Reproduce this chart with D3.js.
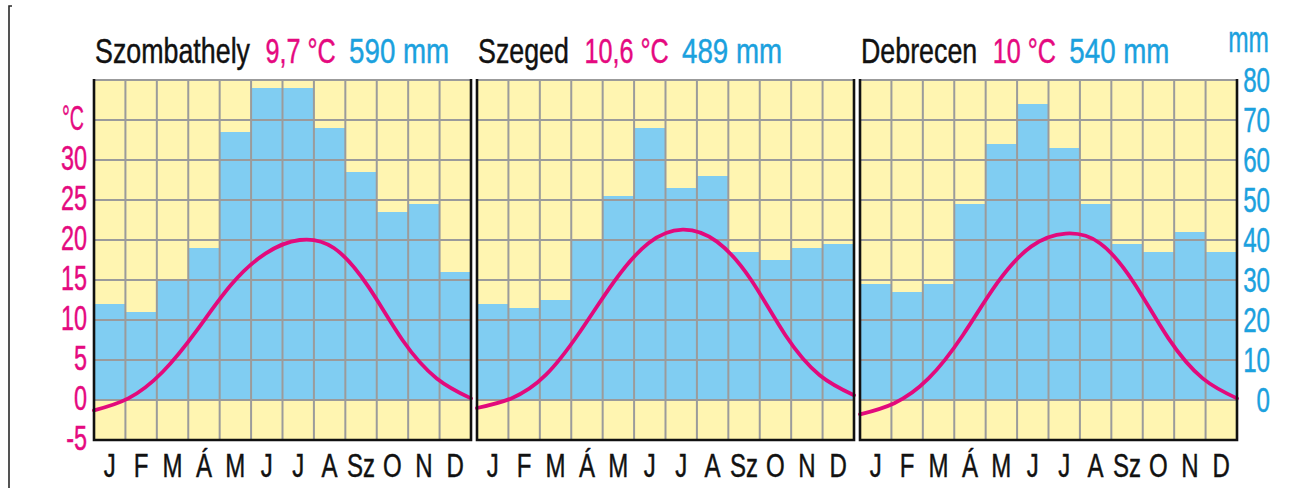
<!DOCTYPE html>
<html>
<head>
<meta charset="utf-8">
<script src="https://cdn.jsdelivr.net/npm/d3@7"></script>
<style>
  html, body { margin: 0; padding: 0; background: #fff; }
  svg { display: block; }
  text { font-family: "Liberation Sans", Arial, sans-serif; }
</style>
</head>
<body>
<svg id="chart" width="1303" height="488"></svg>
<script>
// ---------- data ----------
const months = ["J", "F", "M", "Á", "M", "J", "J", "A", "Sz", "O", "N", "D"];
const stations = ["Szombathely", "Szeged", "Debrecen"];
const meanTempLabels = ["9,7 °C", "10,6 °C", "10 °C"];
const totalPrecipLabels = ["590 mm", "489 mm", "540 mm"];

const precipSzombathely = [24, 22, 30, 38, 67, 78, 78, 68, 57, 47, 49, 32];
const precipSzeged      = [24, 23, 25, 40, 51, 68, 53, 56, 37, 35, 38, 39];
const precipDebrecen    = [29, 27, 29, 49, 64, 74, 63, 49, 39, 37, 42, 37];

const tempSzombathely = [-1.3, 0.2, 3.5, 8.7, 14.4, 18.3, 20.0, 19.0, 14.2, 7.5, 2.7, 0.2];
const tempSzeged      = [-1.0, 0.2, 3.1, 8.5, 14.8, 19.6, 21.3, 19.8, 15.0, 8.1, 3.1, 0.6];
const tempDebrecen    = [-1.8, -0.4, 2.7, 8.1, 14.6, 19.2, 20.8, 19.6, 14.6, 7.7, 2.7, 0.2];

const precipSeries = [precipSzombathely, precipSzeged, precipDebrecen];
const tempSeries = [tempSzombathely, tempSzeged, tempDebrecen];

const tempTicks = [-5, 0, 5, 10, 15, 20, 25, 30];
const tempUnit = "°C";
const mmTicks = [0, 10, 20, 30, 40, 50, 60, 70, 80];
const mmUnit = "mm";

// ---------- style / layout ----------
const C = {
  magenta: "#e5097f",
  blueText: "#1ba1de",
  bar: "#80cdf2",
  yellow: "#fff5b1",
  grid: "#9b9b9b",
  border: "#111",
  curve: "#e20a7c"
};
const panelLeft = 94, panelW = 377, panelStep = 383;
const yTop = 80, yBottom = 440;

const svg = d3.select("#chart");

const yMm = d3.scaleLinear().domain([0, 80]).range([400, yTop]);
const yT = d3.scaleLinear().domain([-5, 40]).range([yBottom, yTop]);

// draw a horizontally condensed text; returns its rendered width
function ctext(parent, str, x, y, size, color, factor, anchor) {
  const t = parent.append("text")
    .attr("transform", `translate(${x},${y}) scale(${factor},1)`)
    .attr("font-size", size)
    .attr("fill", color)
    .attr("stroke", color)
    .attr("stroke-width", 0.45)
    .attr("text-anchor", anchor || "start")
    .text(str);
  return t.node().getComputedTextLength() * factor;
}

// left frame line
svg.append("path")
  .attr("d", "M12,6 L9,6 L9,488")
  .attr("fill", "none").attr("stroke", "#2a2a2a").attr("stroke-width", 1.6);

stations.forEach((name, i) => {
  const x0 = panelLeft + i * panelStep;
  const x1 = x0 + panelW;
  const g = svg.append("g");

  const xBand = d3.scaleBand().domain(d3.range(12)).range([x0, x1]);
  const xPt = d3.scalePoint().domain(d3.range(12)).range([x0, x1]);

  // background
  g.append("rect").attr("x", x0).attr("y", yTop).attr("width", panelW).attr("height", yBottom - yTop)
    .attr("fill", C.yellow);

  // bars
  g.selectAll("rect.bar").data(precipSeries[i]).join("rect")
    .attr("class", "bar")
    .attr("x", (d, k) => xBand(k))
    .attr("width", xBand.bandwidth())
    .attr("y", d => yMm(d))
    .attr("height", d => yMm(0) - yMm(d))
    .attr("fill", C.bar);

  // grid
  g.selectAll("line.vg").data(d3.range(1, 12)).join("line")
    .attr("x1", k => xBand(k)).attr("x2", k => xBand(k))
    .attr("y1", yTop).attr("y2", yBottom)
    .attr("stroke", C.grid).attr("stroke-width", 2);
  g.selectAll("line.hg").data(mmTicks).join("line")
    .attr("x1", x0).attr("x2", x1)
    .attr("y1", d => yMm(d)).attr("y2", d => yMm(d))
    .attr("stroke", C.grid).attr("stroke-width", 2);

  // temperature curve
  const line = d3.line()
    .x((d, k) => xPt(k))
    .y(d => yT(d))
    .curve(d3.curveNatural);
  g.append("path").datum(tempSeries[i])
    .attr("d", line)
    .attr("fill", "none").attr("stroke", C.curve).attr("stroke-width", 3.8)
    .attr("stroke-linecap", "round");

  // borders (left, bottom, right)
  g.append("path")
    .attr("d", `M${x0},${yTop - 1} L${x0},${yBottom} L${x1},${yBottom} L${x1},${yTop - 1}`)
    .attr("fill", "none").attr("stroke", C.border).attr("stroke-width", 2.6);

  // title
  let tx = x0 + 1;
  tx += ctext(g, name, tx, 63, 36, "#111", 0.745) + 15.5;
  tx += ctext(g, meanTempLabels[i], tx, 63, 36, C.magenta, 0.70) + 13.3;
  ctext(g, totalPrecipLabels[i], tx, 63, 36, C.blueText, 0.77);

  // month labels
  months.forEach((m, k) => {
    ctext(g, m, xBand(k) + xBand.bandwidth() / 2, 477, 32.5, "#111", 0.74, "middle");
  });
});

// left temperature axis
tempTicks.forEach(d => ctext(svg, String(d), 87, yT(d) + 10, 35, C.magenta, 0.67, "end"));
ctext(svg, tempUnit, 84, yT(35) + 10, 35, C.magenta, 0.56, "end");

// right precipitation axis
mmTicks.forEach(d => ctext(svg, String(d), 1270, yMm(d) + 12, 35, C.blueText, 0.69, "end"));
ctext(svg, mmUnit, 1269, 51.5, 36, C.blueText, 0.68, "end");
</script>
</body>
</html>
